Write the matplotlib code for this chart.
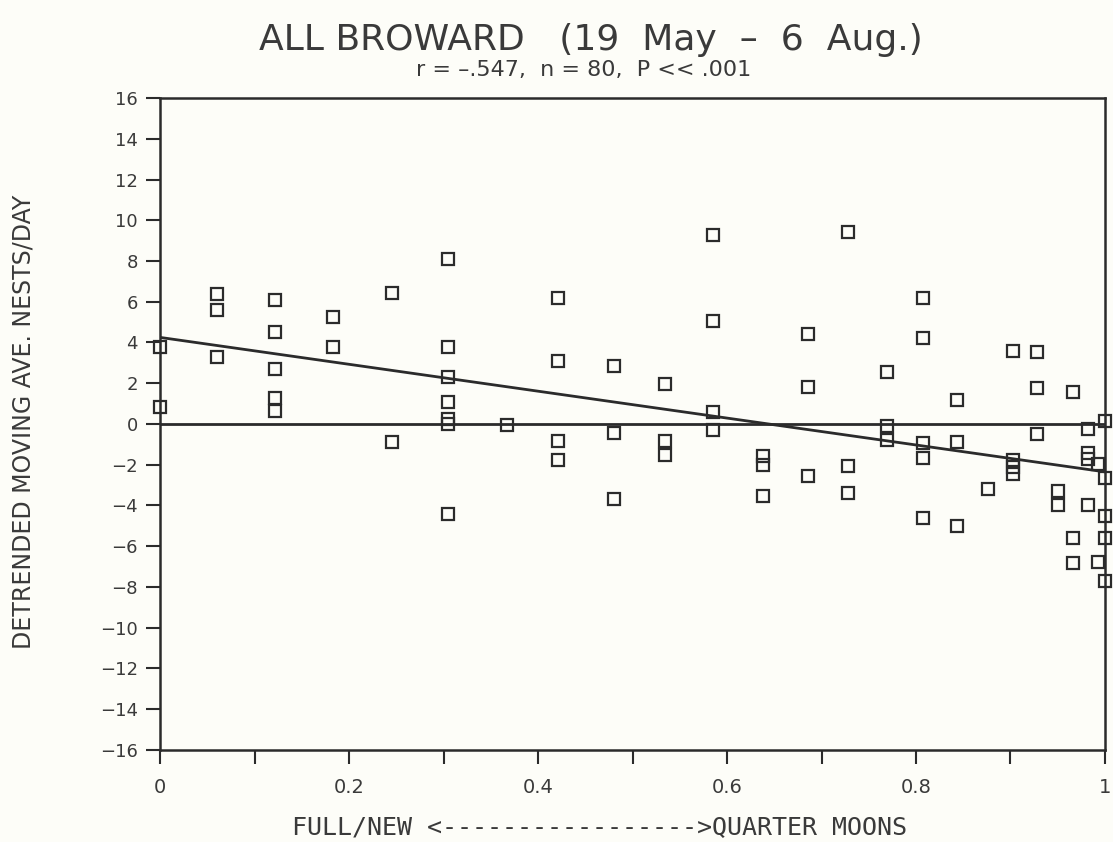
import matplotlib
matplotlib.use('Agg')
import matplotlib.pyplot as plt
import numpy as np

# lunar phase index (0 = full/new, 1 = quarter) and detrended nests/day
phase = [0.0, 0.0,
         0.06, 0.06, 0.06,
         0.122, 0.122, 0.122, 0.122, 0.122,
         0.183, 0.183,
         0.245, 0.245,
         0.305, 0.305, 0.305, 0.305, 0.305, 0.305, 0.305,
         0.367,
         0.421, 0.421, 0.421, 0.421,
         0.48, 0.48, 0.48,
         0.534, 0.534, 0.534,
         0.585, 0.585, 0.585, 0.585,
         0.638, 0.638, 0.638,
         0.686, 0.686, 0.686,
         0.728, 0.728, 0.728,
         0.769, 0.769, 0.769,
         0.807, 0.807, 0.807, 0.807, 0.807,
         0.843, 0.843, 0.843,
         0.876,
         0.903, 0.903, 0.903, 0.903,
         0.928, 0.928, 0.928,
         0.95, 0.95,
         0.966, 0.966, 0.966,
         0.982, 0.982, 0.982, 0.982,
         0.993, 0.993,
         1.0, 1.0, 1.0, 1.0, 1.0]
nests = [3.8, 0.85,
         6.4, 5.6, 3.3,
         6.1, 4.5, 2.7, 1.3, 0.65,
         5.25, 3.8,
         6.45, -0.9,
         8.1, 3.8, 2.3, 1.1, 0.25, 0.0, -4.4,
         -0.05,
         6.2, 3.1, -0.85, -1.75,
         2.85, -0.45, -3.7,
         1.95, -0.85, -1.5,
         9.3, 5.05, 0.6, -0.3,
         -1.55, -2.0, -3.55,
         4.4, 1.8, -2.55,
         9.4, -2.05, -3.4,
         2.55, -0.1, -0.8,
         6.2, 4.2, -0.95, -1.65, -4.6,
         1.2, -0.9, -5.0,
         -3.2,
         3.6, -1.75, -2.1, -2.45,
         3.55, 1.75, -0.5,
         -3.3, -4.0,
         1.55, -5.6, -6.8,
         -0.25, -1.4, -1.7, -4.0,
         -1.95, -6.75,
         0.15, -2.65, -4.5, -5.6, -7.7]

# regression line as drawn on the original
fit_intercept = 4.25
fit_slope = -6.6

xticks = [0, 0.2, 0.4, 0.6, 0.8, 1.0]
xticklabels = ['0', '0.2', '0.4', '0.6', '0.8', '1']
yticks = list(range(-16, 17, 2))

ink = '#2b2b2b'
txt = '#3a3a3a'
paper = '#fdfdf8'

fig = plt.figure(figsize=(11.13, 8.42), dpi=100, facecolor=paper)
ax = fig.add_axes([0.1438, 0.1093, 0.8490, 0.7743], facecolor=paper)

line_x = np.array([0.0, 1.0])
ax.plot(line_x, fit_intercept + fit_slope * line_x, color=ink, lw=2.0, zorder=2)
ax.axhline(0, color=ink, lw=2.0, zorder=2)
ax.plot(phase, nests, ls='none', marker='s', ms=8, mfc='none',
        mec=ink, mew=1.6, zorder=3, clip_on=False)

ax.set_xlim(0, 1)
ax.set_ylim(-16, 16)
ax.set_xticks(xticks)
ax.set_xticklabels(xticklabels)
ax.set_xticks([0.1, 0.3, 0.5, 0.7, 0.9], minor=True)
ax.set_yticks(yticks)
ax.tick_params(axis='both', which='both', direction='out', length=10,
               width=1.5, color=ink, labelcolor=txt, labelsize=13)
ax.tick_params(axis='x', pad=10, labelsize=14)
ax.tick_params(axis='y', pad=6)
for s in ax.spines.values():
    s.set_linewidth(1.8)
    s.set_color(ink)

fig.text(0.531, 0.952, 'ALL BROWARD   (19  May  \u2013  6  Aug.)',
         ha='center', va='center', fontsize=26, color=txt)
fig.text(0.524, 0.917, 'r = \u2013.547,  n = 80,  P << .001',
         ha='center', va='center', fontsize=16, color=txt)
fig.text(0.021, 0.499, 'DETRENDED MOVING AVE. NESTS/DAY', rotation=90,
         ha='center', va='center', fontsize=17, color=txt)
fig.text(0.539, 0.018, 'FULL/NEW <----------------->QUARTER MOONS',
         ha='center', va='center', fontsize=18, color=txt,
         family='DejaVu Sans Mono')

fig.savefig('out.png', dpi=100, facecolor=paper)
